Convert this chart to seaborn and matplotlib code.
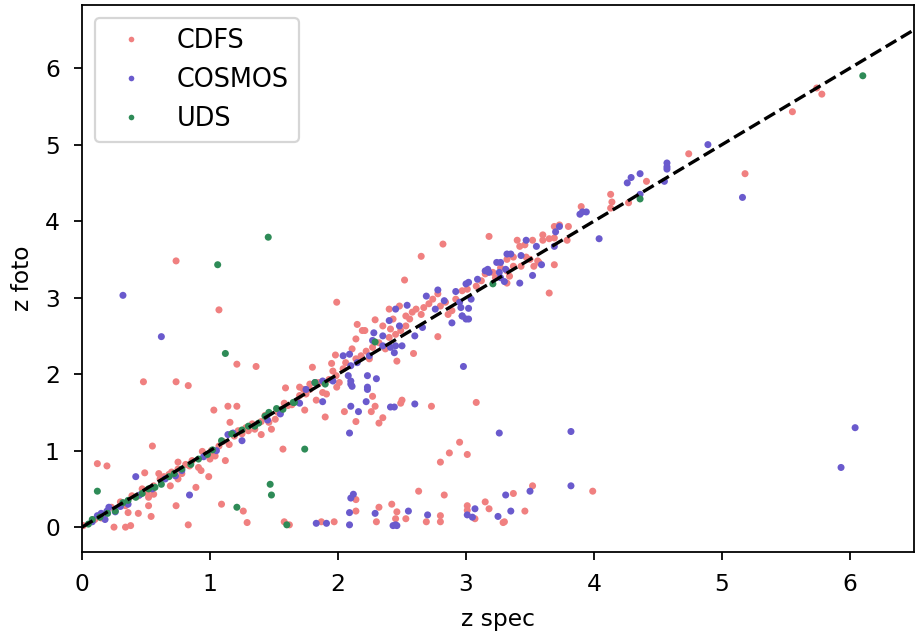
import matplotlib
matplotlib.use("Agg")
import matplotlib.pyplot as plt
import seaborn as sns
import pandas as pd

# ---------------- data ----------------
cdfs_pts = [
    (0.48,1.90),(0.735,1.90),(0.83,1.85),(1.59,1.82),(1.03,1.53),(1.14,1.58),(1.21,1.58),(1.156,1.37),
    (0.55,1.06),(0.12,0.83),(0.195,0.80),(1.57,1.02),(1.58,0.07),(1.26,0.21),(1.29,0.06),(1.09,0.30),
    (0.83,0.03),(0.735,0.28),(0.54,0.14),(0.44,0.18),(0.52,0.28),(0.25,0.00),(0.34,0.00),(0.38,0.02),
    (0.89,0.52),(0.99,0.66),(0.93,0.74),(0.75,0.85),(0.49,0.71),(0.60,0.70),(1.12,0.87),(1.01,0.93),
    (1.40,1.21),(1.48,1.28),(0.52,0.39),
    (0.735,3.48),(1.07,2.84),(1.21,2.13),(1.36,2.10),
    (3.18,3.80),(2.82,3.70),(2.65,3.54),(2.52,3.23),(1.99,2.94),(2.15,2.65),(2.19,2.57),(2.29,2.71),
    (1.80,2.09),(1.95,2.14),(1.98,2.25),(2.59,2.27),(2.46,2.17),(2.78,2.49),
    (3.08,1.63),(2.95,1.11),(2.87,0.97),(3.01,0.95),(2.80,0.85),(2.73,1.58),(2.50,1.66),(2.49,1.62),
    (2.35,1.43),(2.32,1.36),(2.26,1.51),(2.29,1.58),(2.27,1.71),(2.14,1.38),(2.05,1.51),(1.90,1.44),
    (1.83,1.66),(1.74,1.53),
    (2.14,0.36),(2.14,0.21),(1.87,0.07),(1.97,0.07),(2.63,0.47),(2.83,0.42),(2.32,0.26),(2.42,0.30),
    (2.30,0.07),(2.46,0.20),(2.45,0.11),(2.53,0.11),(2.69,0.07),(2.80,0.15),(2.80,0.07),(3.01,0.28),
    (3.01,0.22),(3.07,0.11),(3.15,0.33),(3.18,0.24),(3.30,0.07),(1.62,0.03),
    (3.99,0.47),(3.52,0.54),(3.37,0.44),(3.46,0.21),(3.29,0.06),
    (4.74,4.88),(4.41,4.52),(4.27,4.24),(4.13,4.35),(4.14,4.25),(4.13,4.17),(3.90,4.19),(3.80,3.93),
    (3.73,3.95),(3.69,3.93),(3.79,3.75),(3.65,3.06),(3.69,3.43),(3.32,3.19),
    (3.69,3.78),(3.65,3.77),(3.60,3.82),(3.60,3.75),(3.52,3.75),(3.46,3.69),(3.40,3.75),(3.42,3.67),
    (3.37,3.53),(3.47,3.53),(3.50,3.50),(3.56,3.48),(3.43,3.41),(3.53,3.41),(3.57,3.46),(3.37,3.41),
    (3.32,3.35),(3.34,3.28),
    (5.74,5.74),(5.78,5.66),(5.55,5.43),(5.18,4.62),
    (0.01,0.02),(0.10,0.10),(0.23,0.26),(0.34,0.28),(0.39,0.41),(0.44,0.41),(0.51,0.45),(0.56,0.54),
    (0.61,0.63),(0.68,0.69),(0.75,0.76),(0.81,0.82),(0.86,0.87),(0.96,0.95),(1.01,1.00),(1.07,1.06),
    (1.19,1.19),(1.25,1.22),(1.30,1.26),(1.35,1.28),(1.46,1.37),(1.51,1.41),(1.56,1.54),(1.61,1.59),
    (1.68,1.65),(1.00,0.89),(1.04,0.93),(0.91,0.78),(0.75,0.63),(0.69,0.54),(0.56,0.43),(0.36,0.19),
    (1.73,1.80),(1.75,1.74),(1.83,1.89),(1.88,1.76),(1.91,1.74),(1.99,1.83),(2.01,1.89),
    (1.70,1.83),(1.78,1.87),(1.855,1.89),(1.93,1.93),(1.985,1.98),(1.96,2.04),(2.04,2.07),(2.06,2.15),
    (2.14,2.20),(2.18,2.24),(2.22,2.30),(2.27,2.35),(2.245,2.20),(2.32,2.41),(2.37,2.33),(2.40,2.48),
    (2.41,2.59),(2.45,2.52),(2.49,2.57),(2.53,2.63),(2.56,2.72),(2.58,2.81),(2.61,2.85),(2.65,2.78),
    (2.67,2.87),(2.71,2.92),(2.74,2.98),(2.78,3.05),(2.80,2.89),(2.84,2.94),(2.86,2.78),(2.89,2.83),
    (2.92,2.98),(2.97,3.09),(3.01,3.11),(3.08,3.15),(3.12,3.22),(3.15,3.31),(3.21,3.33),(3.23,3.26),
    (3.27,3.39),(3.32,3.50),(2.48,2.89),(2.53,2.76),(2.40,2.85),(2.43,2.72),(2.35,2.63),(2.21,2.57),
    (2.14,2.46),(2.11,2.33),
    (0.15,0.12),(0.30,0.33),(0.47,0.50),(0.64,0.66),(0.70,0.72),(0.78,0.70),(0.84,0.80),(0.94,0.99),
    (1.10,1.12),(1.15,1.08),(1.22,1.26),(1.28,1.30),(1.33,1.35),(1.40,1.38),(1.43,1.46),(1.53,1.50),
    (1.58,1.62),(1.64,1.60),(1.70,1.72),(1.78,1.80),
]

cosmos_pts = [
    (0.42,0.66),(0.84,0.42),(1.25,1.13),(0.32,3.03),(0.62,2.49),
    (2.98,2.10),(2.30,1.94),(2.89,2.67),(3.02,2.72),(2.97,2.76),(2.96,2.87),(3.02,2.86),(3.04,2.98),
    (2.09,1.23),(3.26,1.23),(2.60,1.61),(2.41,1.57),(2.44,1.57),(2.22,1.64),(2.23,1.80),(2.16,1.51),
    (2.10,1.58),(2.11,1.84),(2.10,1.91),(1.88,1.64),
    (2.12,0.43),(2.10,0.38),(2.09,0.19),(2.09,0.03),(1.83,0.05),(1.91,0.05),(2.29,0.18),(2.43,0.02),
    (2.46,0.02),(2.45,0.03),(2.55,0.21),(2.70,0.16),(3.07,0.24),(3.01,0.16),(3.05,0.13),(3.25,0.14),
    (3.31,0.42),
    (3.82,1.25),(3.82,0.54),(3.50,0.47),(3.35,0.21),
    (4.89,5.00),(4.57,4.76),(4.57,4.71),(4.57,4.68),(4.55,4.52),(4.36,4.62),(4.29,4.57),(4.26,4.50),
    (4.36,4.35),(4.04,3.77),(3.91,4.12),(3.94,4.12),(3.89,4.09),(3.73,3.93),(3.70,3.86),(3.59,3.43),
    (3.52,3.29),(3.42,3.19),(3.47,3.75),(3.55,3.67),(3.69,3.67),(3.35,3.57),(3.43,3.55),(3.31,3.37),
    (3.27,3.46),(3.27,3.26),(3.30,3.21),
    (5.16,4.31),(6.04,1.30),(5.93,0.78),
    (0.12,0.15),(0.195,0.21),(0.21,0.26),(0.26,0.20),(0.18,0.10),(0.36,0.30),(0.65,0.63),(0.73,0.67),
    (0.78,0.74),(1.14,1.21),(1.18,1.23),
    (1.82,1.89),(1.88,1.91),(1.96,1.91),
    (2.45,2.85),(2.54,2.90),(2.69,3.02),(2.78,3.10),(2.92,3.08),(3.00,3.18),(3.15,3.35),(3.24,3.46),
    (3.32,3.57),(2.40,2.70),(2.28,2.54),(2.09,2.26),(2.245,2.24),(2.10,2.11),(2.08,1.98),(2.10,1.87),
    (2.23,1.83),(2.35,2.37),(2.45,2.37),(2.50,2.37),(2.60,2.50),(2.66,2.61),(2.76,2.85),(2.83,2.96),
    (2.95,2.94),(2.97,2.76),(3.00,2.72),(2.41,2.35),(2.44,2.28),(2.23,1.98),(2.15,2.15),(2.04,2.24),
    (3.17,3.37),(3.18,3.33),(3.26,3.33),(3.02,3.20),(3.09,3.24),(2.27,2.44),(2.35,2.50),(2.48,2.63),
    (0.08,0.07),(0.15,0.18),(0.30,0.27),(0.45,0.42),(0.55,0.50),(0.95,0.92),(1.05,1.00),(1.45,1.40),
    (1.55,1.48),(1.70,1.62),(1.75,1.80),
]

uds_pts = [
    (1.455,3.79),(1.06,3.43),(1.12,2.27),(0.12,0.47),(1.47,0.56),(1.48,0.42),(1.21,0.26),(1.60,0.03),
    (1.74,1.02),(2.29,2.42),(3.21,3.18),(1.82,1.89),(1.90,1.87),(4.36,4.29),(6.10,5.90),(1.65,1.63),
    (0.05,0.04),(0.14,0.13),(0.26,0.21),(0.32,0.32),(0.42,0.39),(0.52,0.50),(0.62,0.56),(0.78,0.76),
    (0.91,0.89),(1.09,1.13),(1.17,1.22),(1.30,1.32),(1.35,1.32),(1.43,1.45),(1.46,1.50),(1.66,1.63),
    (0.08,0.10),(0.20,0.18),(0.36,0.35),(0.47,0.44),(0.57,0.52),(0.68,0.66),(0.72,0.70),(0.85,0.82),
    (0.98,0.95),(1.02,1.01),(1.25,1.27),(1.38,1.36),(1.52,1.55),(1.57,1.54),
]

fields = ["CDFS", "COSMOS", "UDS"]
colors = ["#F08080", "#6A5ACD", "#2E8B57"]
line_z = [0.0, 6.5]
x_ticks = [0, 1, 2, 3, 4, 5, 6]
y_ticks = [0, 1, 2, 3, 4, 5, 6]

# ---------------- build table ----------------
rows = []
for name, pts in zip(fields, [cdfs_pts, cosmos_pts, uds_pts]):
    for zs, zf in pts:
        rows.append({"zspec": zs, "zfoto": zf, "field": name})
df = pd.DataFrame(rows)

# ---------------- figure ----------------
plt.rcParams["font.family"] = ["DejaVu Sans"]
plt.rcParams["font.size"] = 10.5
fig = plt.figure(figsize=(916 / 160, 632 / 160), dpi=160)
ax = fig.add_axes([82 / 916, 1 - 552 / 632, (914 - 82) / 916, (552 - 5) / 632])

sns.scatterplot(data=df, x="zspec", y="zfoto", hue="field", hue_order=fields,
                palette=dict(zip(fields, colors)), s=10, linewidth=0, ax=ax)
sns.lineplot(x=line_z, y=line_z, color="black", linestyle="--", linewidth=1.5, ax=ax)

ax.set_xlim(line_z[0], line_z[1])
ax.set_xticks(x_ticks)
ax.set_yticks(y_ticks)
ax.tick_params(axis="x", labelsize=10.5, pad=5.8)
ax.tick_params(axis="y", labelsize=10.5, pad=6.5)
ax.set_xlabel("z spec", fontsize=10.5, labelpad=5.5)
ax.set_ylabel("z foto", fontsize=10.5, labelpad=5.0)

handles, labels = ax.get_legend_handles_labels()
ax.legend(handles=handles[:3], labels=labels[:3], loc="upper left", fontsize=11.5,
          markerscale=0.8)

fig.savefig("out.png", dpi=160)
